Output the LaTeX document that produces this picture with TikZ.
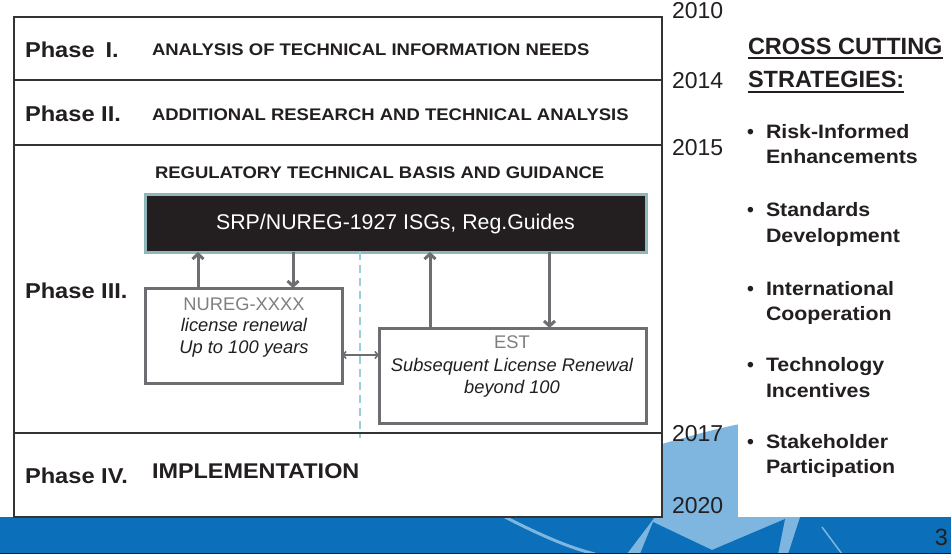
\documentclass[tikz,border=0pt]{standalone}
\usepackage{fontspec}
\setmainfont{Liberation Sans}
\newfontfamily\wfont{Liberation Sans}[FakeStretch=1.1]
\usetikzlibrary{arrows.meta,calc}
\definecolor{ink}{HTML}{231F20}
\definecolor{frameC}{HTML}{333333}
\definecolor{arrgray}{HTML}{6D6E71}
\definecolor{darkblue}{HTML}{0B6FB9}
\definecolor{lightblue}{HTML}{7EB6E0}
\definecolor{tealC}{HTML}{8FB6BA}
\definecolor{dashC}{HTML}{9ACFDB}
\definecolor{txtgray}{HTML}{7F7F7F}
\begin{document}
\begin{tikzpicture}[x=1pt,y=-1pt,
  every node/.style={inner sep=0pt, outer sep=0pt},
  rowbox/.style={draw=frameC, line width=1.6pt, fill=white, minimum width=648pt, anchor=north west},
  phase/.style={font=\wfont\bfseries\fontsize{21.5}{25}\selectfont, text=ink, anchor=base west},
  topic/.style={font=\wfont\bfseries\fontsize{16.8}{20}\selectfont, text=ink, anchor=base west},
  impl/.style={font=\wfont\bfseries\fontsize{21.3}{25}\selectfont, text=ink, anchor=base west},
  year/.style={font=\fontsize{23}{27}\selectfont, text=ink, anchor=base west},
  srpbox/.style={draw=tealC, line width=3pt, fill=ink, text=white, minimum width=501pt, minimum height=58pt, font=\fontsize{21.3}{25}\selectfont, text height=16pt, text depth=3pt},
  gbox/.style={draw=arrgray, line width=3pt, fill=white},
  btxt/.style={font=\fontsize{18.3}{22}\selectfont, text=txtgray, anchor=base},
  itxt/.style={font=\itshape\fontsize{18.3}{22}\selectfont, text=ink, anchor=base},
  arr/.style={draw=arrgray, line width=3pt, -{Straight Barb[length=5pt,width=11pt]}},
  darr/.style={draw=arrgray, line width=1.6pt, {Straight Barb[length=3pt,width=7pt]}-{Straight Barb[length=3pt,width=7pt]}},
  dashl/.style={draw=dashC, line width=1.6pt, dash pattern=on 8pt off 5pt},
  head/.style={font=\bfseries\fontsize{23.5}{27}\selectfont, text=ink, anchor=base west},
  ul/.style={draw=ink, line width=2pt},
  dotb/.style={font=\bfseries\fontsize{19.4}{25}\selectfont, text=ink, anchor=base west},
  item/.style={font=\wfont\bfseries\fontsize{19.4}{25}\selectfont, text=ink, anchor=base west},
  pgnum/.style={font=\fontsize{23.5}{27}\selectfont, text=ink, anchor=base east}
]
\useasboundingbox (0,0) rectangle (951,554);
\fill[white] (0,0) rectangle (951,554);
% background decoration
\fill[darkblue] (0,517) rectangle (951,554);
\fill[lightblue] (655,446) .. controls (690,436) and (715,429) .. (740,424) -- (740,517) -- (800,517) -- (788,554) -- (627,554) -- (655,517) -- cycle;
\fill[darkblue] (640,554) -- (653,522) -- (712,550) -- (785,519) -- (778,554) -- cycle;
\draw[lightblue, line width=3pt] (505,517) .. controls (540,535) and (570,548) .. (595,554);
\draw[lightblue, line width=1.5pt] (822,527) -- (842,554);
\draw[black!70!darkblue, line width=1pt] (0,553.5) -- (951,553.5);
\fill[white] (738,0) rectangle (951,517);
% phase rows
\node[rowbox, minimum height=63pt] (r1) at (14,17) {};
\node[rowbox, minimum height=65pt] (r2) at (14,80) {};
\node[rowbox, minimum height=288pt] (r3) at (14,145) {};
\node[rowbox, minimum height=84pt] (r4) at (14,433) {};
% phase texts
\node[phase] (p1) at (25,57) {Phase\hspace{11pt}I.};
\node[topic] (t1) at (152,55) {ANALYSIS OF TECHNICAL INFORMATION NEEDS};
\node[phase] (p2) at (25,121.5) {Phase II.};
\node[topic] (t2) at (152,120) {ADDITIONAL RESEARCH AND TECHNICAL ANALYSIS};
\node[topic] (t3) at (155,178) {REGULATORY TECHNICAL BASIS AND GUIDANCE};
\node[phase] (p3) at (25,298) {Phase III.};
\node[phase] (p4) at (25,483) {Phase IV.};
\node[impl] (t4) at (152,478) {IMPLEMENTATION};
% years
\node[year] (y1) at (672,18.3) {2010};
\node[year] (y2) at (672,88.3) {2014};
\node[year] (y3) at (672,155) {2015};
\node[year] (y4) at (672,441.5) {2017};
\node[year] (y5) at (672,513) {2020};
% helper coordinates
\coordinate (xa) at (198,0);
\coordinate (xb) at (293,0);
\coordinate (xc) at (430,0);
\coordinate (xd) at (549.5,0);
\coordinate (xdash) at (360,0);
\coordinate (ya) at (0,355);
\coordinate (dashend) at (360,438);
% SRP box and dashed divider
\node[srpbox] (srp) at (395.5,223) {SRP/NUREG-1927 ISGs, Reg.Guides};
\draw[dashl] (srp.south -| xdash) -- (dashend);
% sub boxes
\node[gbox, minimum width=197pt, minimum height=95pt] (nureg) at (243.5,335.5) {};
\node[gbox, minimum width=267pt, minimum height=95pt] (est) at (512.5,375.5) {};
\node[btxt] (n1) at (244,310) {NUREG-XXXX};
\node[itxt] (n2) at (244,331.7) {license renewal};
\node[itxt] (n3) at (244,353) {Up to 100 years};
\node[btxt] (e1) at (512,348.3) {EST};
\node[itxt] (e2) at (512,371.7) {Subsequent License Renewal};
\node[itxt] (e3) at (512,393) {beyond 100};
% arrows
\draw[arr] (nureg.north -| xa) -- (srp.south -| xa);
\draw[arr] (srp.south -| xb) -- (nureg.north -| xb);
\draw[arr] (est.north -| xc) -- (srp.south -| xc);
\draw[arr] (srp.south -| xd) -- (est.north -| xd);
\draw[darr] (nureg.east |- ya) -- (est.west |- ya);
% cross cutting strategies
\node[head] (cc1) at (748,54) {CROSS CUTTING};
\node[head] (cc2) at (748,87.3) {STRATEGIES:};
\draw[ul] ([yshift=-4pt]cc1.base west) -- ([yshift=-4pt]cc1.base east);
\draw[ul] ([yshift=-4.5pt]cc2.base west) -- ([yshift=-4.5pt]cc2.base east);
\foreach \i/\y/\a/\b in {1/138.3/Risk-Informed/Enhancements,
                         2/216.7/Standards/Development,
                         3/295/International/Cooperation,
                         4/371.7/Technology/Incentives,
                         5/448.3/Stakeholder/Participation}{
  \node[dotb] (d\i) at (747,\y) {•};
  \node[item] (i\i a) at (766,\y) {\a};
  \node[item] (i\i b) at (766,\y+25.5) {\b};
}
\node[pgnum] (pg) at (948,545) {3};
\end{tikzpicture}
\end{document}
